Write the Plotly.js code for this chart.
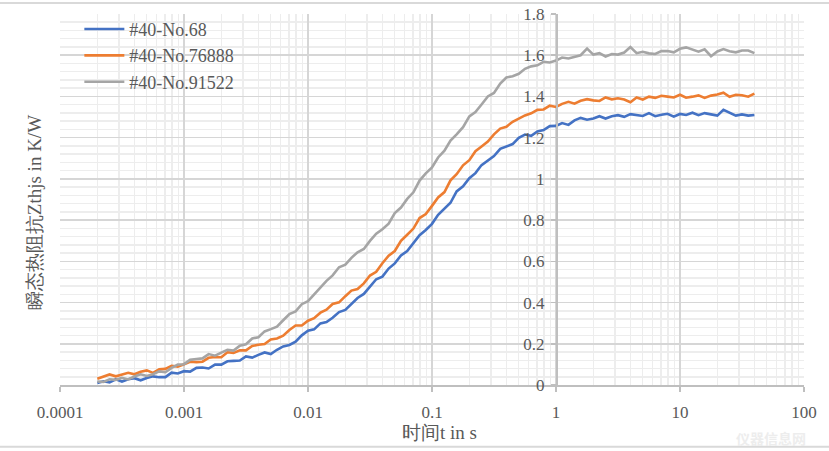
<!DOCTYPE html>
<html>
<head>
<meta charset="utf-8">
<script src="https://cdn.plot.ly/plotly-3.0.1.min.js"></script>
<style>html,body{margin:0;padding:0;background:#fff;}#chart{width:829px;height:451px;}</style>
</head>
<body>
<div id="chart"></div>
<script>
// time in s
const timeS = [
  2.00e-4, 2.24e-4, 2.51e-4, 2.82e-4, 3.16e-4, 3.55e-4, 3.98e-4, 4.47e-4, 5.01e-4, 5.62e-4, 6.31e-4, 7.08e-4, 7.94e-4, 8.91e-4,
  1.00e-3, 1.12e-3, 1.26e-3, 1.41e-3, 1.58e-3, 1.78e-3, 2.00e-3, 2.24e-3, 2.51e-3, 2.82e-3, 3.16e-3, 3.55e-3, 3.98e-3, 4.47e-3, 5.01e-3, 5.62e-3, 6.31e-3, 7.08e-3, 7.94e-3, 8.91e-3,
  1.00e-2, 1.12e-2, 1.26e-2, 1.41e-2, 1.58e-2, 1.78e-2, 2.00e-2, 2.24e-2, 2.51e-2, 2.82e-2, 3.16e-2, 3.55e-2, 3.98e-2, 4.47e-2, 5.01e-2, 5.62e-2, 6.31e-2, 7.08e-2, 7.94e-2, 8.91e-2,
  1.00e-1, 1.12e-1, 1.26e-1, 1.41e-1, 1.58e-1, 1.78e-1, 2.00e-1, 2.24e-1, 2.51e-1, 2.82e-1, 3.16e-1, 3.55e-1, 3.98e-1, 4.47e-1, 5.01e-1, 5.62e-1, 6.31e-1, 7.08e-1, 7.94e-1, 8.91e-1,
  1.00, 1.12, 1.26, 1.41, 1.58, 1.78, 2.00, 2.24, 2.51, 2.82, 3.16, 3.55, 3.98, 4.47, 5.01, 5.62, 6.31, 7.08, 7.94, 8.91,
  10.0, 11.2, 12.6, 14.1, 15.8, 17.8, 20.0, 22.4, 25.1, 28.2, 31.6, 35.5, 39.8
];
// #40-No.68  (K/W)
const zth68 = [
  0.010, 0.018, 0.013, 0.028, 0.017, 0.028, 0.033, 0.023, 0.034, 0.042, 0.038, 0.038, 0.060, 0.056,
  0.067, 0.065, 0.083, 0.085, 0.080, 0.099, 0.099, 0.115, 0.117, 0.119, 0.139, 0.133, 0.146, 0.158, 0.150, 0.171, 0.187, 0.194, 0.210, 0.241,
  0.263, 0.270, 0.299, 0.305, 0.326, 0.354, 0.364, 0.391, 0.422, 0.442, 0.479, 0.513, 0.526, 0.565, 0.590, 0.628, 0.650, 0.689, 0.727, 0.752,
  0.782, 0.826, 0.854, 0.884, 0.939, 0.964, 1.003, 1.028, 1.067, 1.091, 1.111, 1.146, 1.156, 1.169, 1.199, 1.215, 1.209, 1.230, 1.237, 1.256,
  1.257, 1.271, 1.262, 1.284, 1.296, 1.287, 1.293, 1.304, 1.293, 1.304, 1.309, 1.301, 1.314, 1.310, 1.305, 1.319, 1.304, 1.311, 1.316, 1.302,
  1.315, 1.310, 1.321, 1.309, 1.319, 1.313, 1.307, 1.335, 1.322, 1.307, 1.313, 1.307, 1.310
];
// #40-No.76888  (K/W)
const zth76888 = [
  0.030, 0.040, 0.051, 0.042, 0.049, 0.059, 0.052, 0.064, 0.071, 0.059, 0.076, 0.078, 0.093, 0.089,
  0.101, 0.113, 0.111, 0.113, 0.132, 0.136, 0.135, 0.159, 0.156, 0.168, 0.168, 0.189, 0.195, 0.199, 0.221, 0.226, 0.239, 0.267, 0.289, 0.289,
  0.312, 0.324, 0.351, 0.365, 0.393, 0.401, 0.431, 0.458, 0.466, 0.493, 0.531, 0.549, 0.591, 0.627, 0.650, 0.699, 0.729, 0.759, 0.810, 0.829,
  0.869, 0.910, 0.936, 0.993, 1.023, 1.066, 1.091, 1.134, 1.157, 1.181, 1.216, 1.244, 1.253, 1.277, 1.292, 1.308, 1.318, 1.335, 1.337, 1.355,
  1.349, 1.364, 1.374, 1.365, 1.379, 1.387, 1.381, 1.378, 1.395, 1.386, 1.391, 1.385, 1.372, 1.395, 1.385, 1.399, 1.393, 1.403, 1.399, 1.395,
  1.408, 1.394, 1.399, 1.405, 1.393, 1.404, 1.409, 1.418, 1.398, 1.408, 1.406, 1.399, 1.414
];
// #40-No.91522  (K/W)
const zth91522 = [
  0.017, 0.015, 0.028, 0.025, 0.035, 0.027, 0.041, 0.052, 0.044, 0.052, 0.066, 0.062, 0.083, 0.099,
  0.101, 0.122, 0.126, 0.129, 0.150, 0.142, 0.157, 0.171, 0.167, 0.191, 0.198, 0.226, 0.232, 0.260, 0.271, 0.283, 0.314, 0.344, 0.357, 0.392,
  0.407, 0.440, 0.470, 0.505, 0.532, 0.571, 0.584, 0.617, 0.644, 0.660, 0.699, 0.734, 0.756, 0.783, 0.834, 0.861, 0.903, 0.935, 0.992, 1.027,
  1.056, 1.104, 1.137, 1.186, 1.216, 1.251, 1.303, 1.324, 1.361, 1.400, 1.417, 1.463, 1.492, 1.498, 1.510, 1.534, 1.546, 1.551, 1.568, 1.565,
  1.574, 1.589, 1.584, 1.591, 1.600, 1.632, 1.603, 1.610, 1.594, 1.606, 1.603, 1.613, 1.640, 1.610, 1.617, 1.609, 1.606, 1.620, 1.620, 1.614,
  1.631, 1.638, 1.627, 1.617, 1.629, 1.595, 1.618, 1.630, 1.619, 1.614, 1.623, 1.623, 1.610
];
const seriesNames = ['#40-No.68', '#40-No.76888', '#40-No.91522'];
const seriesColors = ['#4472C4', '#ED7D31', '#A5A5A5'];
const xTickVals = [0.0001, 0.001, 0.01, 0.1, 1, 10, 100];
const xTickText = ['0.0001', '0.001', '0.01', '0.1', '1', '10', '100'];
const yTickVals = [0, 0.2, 0.4, 0.6, 0.8, 1, 1.2, 1.4, 1.6, 1.8];
const yTickText = ['0', '0.2', '0.4', '0.6', '0.8', '1', '1.2', '1.4', '1.6', '1.8'];
const xTitle = '时间t in s';
const yTitle = '瞬态热阻抗Zthjs in K/W';
const watermark = '仪器信息网';

const FONT = '"Liberation Serif", "Times New Roman", "DejaVu Serif", serif';
const TXT = '#595959';
const seriesData = [zth68, zth76888, zth91522];

const traces = seriesData.map((ys, i) => ({
  type: 'scatter', mode: 'lines', name: seriesNames[i],
  x: timeS, y: ys, legendgroup: 'g' + i,
  line: { color: seriesColors[i], width: 2.6 }
}));

const layout = {
  width: 829, height: 451,
  margin: { l: 60, r: 25, t: 13, b: 66 },
  paper_bgcolor: '#ffffff', plot_bgcolor: '#ffffff',
  font: { family: FONT, color: TXT },
  showlegend: true,
  legend: {
    x: 0.026, y: 1.006, xanchor: 'left', yanchor: 'top',
    bgcolor: 'rgba(0,0,0,0)', font: { family: FONT, size: 18, color: TXT },
    traceorder: 'grouped', tracegroupgap: 0, itemwidth: 40
  },
  xaxis: {
    type: 'log', range: [-4, 2],
    tickmode: 'array', tickvals: xTickVals, ticktext: xTickText,
    ticks: 'outside', ticklen: 5, tickwidth: 1.5, tickcolor: '#bfbfbf',
    ticklabelstandoff: 6,
    showline: true, linecolor: '#bfbfbf', linewidth: 1.5,
    showgrid: true, gridcolor: '#d6d6d6', gridwidth: 1.5,
    minor: { dtick: 'D1', showgrid: true, gridcolor: '#ededed', gridwidth: 1.5, ticks: '' },
    zeroline: false,
    tickfont: { family: FONT, size: 17, color: TXT }
  },
  yaxis: {
    range: [0, 1.8], anchor: 'free', position: 4 / 6,
    tickmode: 'array', tickvals: yTickVals, ticktext: yTickText,
    ticks: 'outside', ticklen: 5, tickwidth: 1.5, tickcolor: '#bfbfbf',
    ticklabelstandoff: 3,
    showline: true, linecolor: '#bfbfbf', linewidth: 1.5,
    showgrid: true, gridcolor: '#d6d6d6', gridwidth: 1.5,
    minor: { dtick: 0.04, showgrid: true, gridcolor: '#ededed', gridwidth: 1.5, ticks: '' },
    zeroline: false,
    tickfont: { family: FONT, size: 17, color: TXT }
  },
  annotations: [
    { xref: 'paper', yref: 'paper', x: -0.034, y: 0.465, xanchor: 'center', yanchor: 'middle',
      text: yTitle, textangle: -90, showarrow: false,
      font: { family: FONT, size: 19, color: TXT } },
    { xref: 'paper', yref: 'paper', x: 0.51, y: -0.127, xanchor: 'center', yanchor: 'middle',
      text: xTitle, showarrow: false,
      font: { family: FONT, size: 19, color: TXT } },
    { xref: 'paper', yref: 'paper', x: 0.955, y: -0.142, xanchor: 'center', yanchor: 'middle',
      text: '<b>' + watermark + '</b>', showarrow: false,
      font: { family: 'Noto Sans CJK SC, sans-serif', size: 14, color: '#ededed' } }
  ],
  shapes: [
    { type: 'line', xref: 'paper', yref: 'paper', x0: -0.2, x1: 1.2, y0: 1.0296, y1: 1.0296,
      line: { color: '#d9d9d9', width: 2 } },
    { type: 'line', xref: 'paper', yref: 'paper', x0: -0.2, x1: 1.2, y0: -0.1667, y1: -0.1667,
      line: { color: '#d9d9d9', width: 2 } }
  ]
};

Plotly.newPlot('chart', traces, layout, { staticPlot: true, displayModeBar: false });
</script>
</body>
</html>
